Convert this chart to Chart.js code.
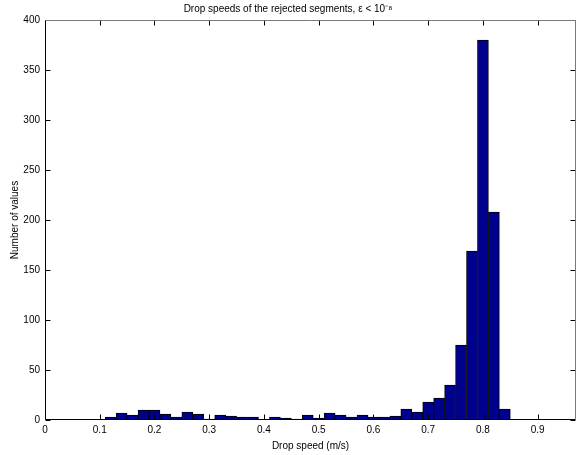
<!DOCTYPE html>
<html>
<head>
<meta charset="utf-8">
<script src="https://cdn.jsdelivr.net/npm/chart.js@4/dist/chart.umd.min.js"></script>
<style>
  html, body { margin: 0; padding: 0; background: #fff; }
  #wrap { width: 588px; height: 455px; }
</style>
</head>
<body>
<div id="wrap"><canvas id="grafico"></canvas></div>
<script>
// bin centres (m/s) and counts
const binCentres = [0.12, 0.14, 0.16, 0.18, 0.20, 0.22, 0.24, 0.26, 0.28, 0.30,
    0.32, 0.34, 0.36, 0.38, 0.40, 0.42, 0.44, 0.46, 0.48, 0.50,
    0.52, 0.54, 0.56, 0.58, 0.60, 0.62, 0.64, 0.66, 0.68, 0.70,
    0.72, 0.74, 0.76, 0.78, 0.80, 0.82, 0.84];
const counts = [3, 7, 5, 10, 10, 6, 3, 8, 6, 1,
    5, 4, 3, 3, 0, 3, 2, 1, 5, 2,
    7, 5, 3, 5, 3, 3, 4, 11, 8, 18,
    22, 35, 75, 169, 380, 208, 11];
const xTicks = [0, 0.1, 0.2, 0.3, 0.4, 0.5, 0.6, 0.7, 0.8, 0.9];
const yTicks = [0, 50, 100, 150, 200, 250, 300, 350, 400];

const fontFamily = "'Liberation Sans', Arial, sans-serif";

// MATLAB style box with inward ticks on all four sides
const boxTicks = {
    id: "boxTicks",
    afterDraw(chart) {
        const { ctx, chartArea: a, scales } = chart;
        const L = Math.round(a.left) + 0.5;
        const R = Math.round(a.right) - 0.5;
        const T = Math.round(a.top) + 0.5;
        const B = Math.round(a.bottom) - 0.5;
        ctx.save();
        ctx.lineWidth = 1;
        ctx.strokeStyle = "#000";
        ctx.beginPath();
        xTicks.forEach((v) => {
            const px = Math.round(scales.x.getPixelForValue(v)) + 0.5;
            ctx.moveTo(px, B); ctx.lineTo(px, B - 5);
            ctx.moveTo(px, T); ctx.lineTo(px, T + 5);
        });
        yTicks.forEach((v) => {
            const py = Math.round(scales.y.getPixelForValue(v)) + 0.5;
            ctx.moveTo(L, py); ctx.lineTo(L + 5, py);
            ctx.moveTo(R, py); ctx.lineTo(R - 5, py);
        });
        ctx.stroke();
        ctx.beginPath();
        ctx.moveTo(L, T); ctx.lineTo(L, B); ctx.lineTo(R, B);
        ctx.stroke();
        ctx.strokeStyle = "#7a7a7a";
        ctx.beginPath();
        ctx.moveTo(L, T); ctx.lineTo(R, T); ctx.lineTo(R, B);
        ctx.stroke();
        ctx.restore();
    },
};

const data = {
    datasets: [{
        data: binCentres.map((c, i) => ({ x: c, y: counts[i] })),
        backgroundColor: "#00008F",
        borderColor: "#000",
        borderWidth: 1,
        barPercentage: 1,
        categoryPercentage: 1,
        grouped: false,
    }],
};

const options = {
    responsive: false,
    animation: false,
    layout: { padding: { left: 0, right: 12, top: 0, bottom: 0 } },
    scales: {
        x: {
            type: "linear",
            min: 0,
            max: 0.97,
            offset: false,
            grid: { display: false, drawTicks: false },
            border: { display: false },
            afterBuildTicks: (scale) => {
                scale.ticks = xTicks.map((v) => ({ value: v }));
            },
            afterFit: (scale) => { scale.height = 35; },
            ticks: {
                color: "#000",
                padding: 4,
                maxRotation: 0,
                font: { family: fontFamily, size: 10 },
                callback: (v) => String(Number(v.toFixed(1))),
            },
            title: {
                display: true,
                text: "Drop speed (m/s)",
                color: "#000",
                padding: { top: 0, bottom: 3 },
                font: { family: fontFamily, size: 10 },
            },
        },
        y: {
            min: 0,
            max: 400,
            grid: { display: false, drawTicks: false },
            border: { display: false },
            afterBuildTicks: (scale) => {
                scale.ticks = yTicks.map((v) => ({ value: v }));
            },
            afterFit: (scale) => { scale.width = 45; },
            ticks: {
                color: "#000",
                padding: 5,
                font: { family: fontFamily, size: 10 },
            },
            title: {
                display: true,
                text: "Number of values",
                color: "#000",
                padding: { top: 9, bottom: 0 },
                font: { family: fontFamily, size: 10 },
            },
        },
    },
    plugins: {
        legend: { display: false },
        tooltip: { enabled: false },
        title: {
            display: true,
            text: "Drop speeds of the rejected segments, ε < 10⁻⁸",
            color: "#000",
            padding: { top: 3, bottom: 5 },
            font: { family: fontFamily, size: 10, weight: "normal", lineHeight: 1.2 },
        },
    },
};

const canvas = document.getElementById("grafico");
canvas.width = 588;
canvas.height = 455;

new Chart(canvas, {
    type: "bar",
    data: data,
    options: options,
    plugins: [boxTicks],
});
</script>
</body>
</html>
